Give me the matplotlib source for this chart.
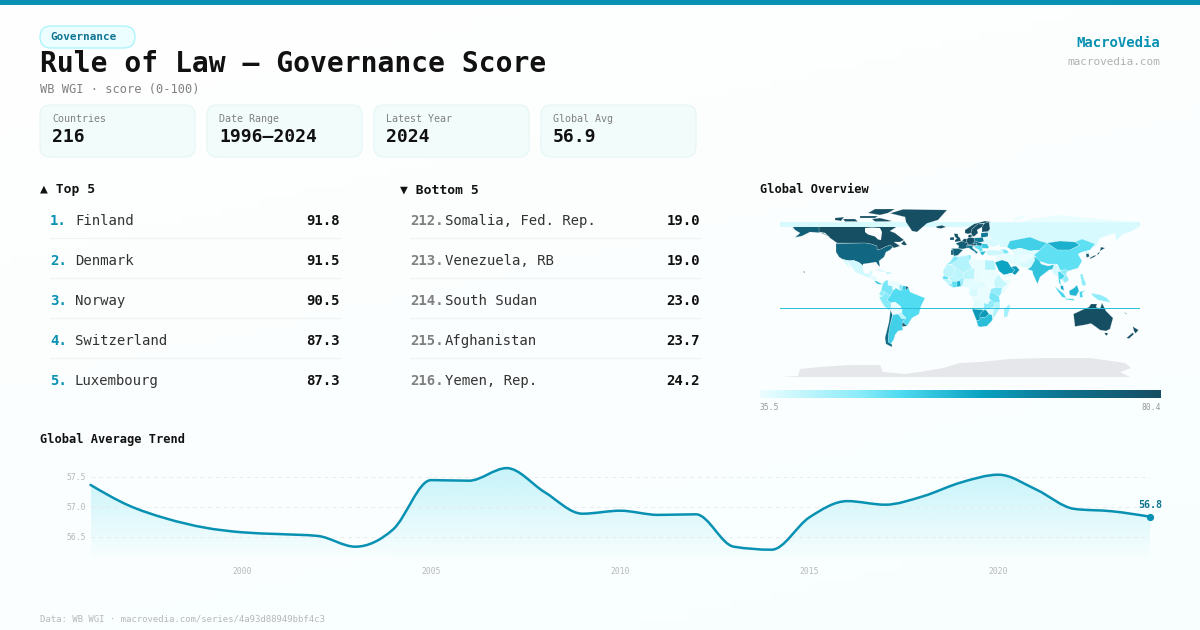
import numpy as np
import matplotlib

matplotlib.use("Agg")
import matplotlib.pyplot as plt
from matplotlib.colors import LinearSegmentedColormap, to_rgb
from matplotlib.patches import FancyBboxPatch, PathPatch, Polygon, Rectangle
from matplotlib.path import Path

plt.rcParams["font.family"] = ["DejaVu Sans Mono", "DejaVu Sans"]

W, H = 1200, 630
PX = 0.72  # font px to pt at dpi 100

ACCENT = "#0891b2"
DARK = "#111111"
BODY = "#333333"
GREY = "#808080"
LIGHT = "#b8b8b8"

# Header and stat cards
badge_text = "Governance"
title_text = "Rule of Law — Governance Score"
subtitle_text = "WB WGI · score (0-100)"
stat_labels = ["Countries", "Date Range", "Latest Year", "Global Avg"]
stat_values = ["216", "1996–2024", "2024", "56.9"]

# Rankings
top_ranks = ["1.", "2.", "3.", "4.", "5."]
top_names = ["Finland", "Denmark", "Norway", "Switzerland", "Luxembourg"]
top_scores = [91.8, 91.5, 90.5, 87.3, 87.3]
bottom_ranks = ["212.", "213.", "214.", "215.", "216."]
bottom_names = ["Somalia, Fed. Rep.", "Venezuela, RB", "South Sudan", "Afghanistan", "Yemen, Rep."]
bottom_scores = [19.0, 19.0, 23.0, 23.7, 24.2]

# Trend
years = list(range(1996, 2025))
global_avg = [57.36, 57.02, 56.80, 56.65, 56.57, 56.54, 56.51, 56.33, 56.62, 57.44,
              57.43, 57.64, 57.24, 56.88, 56.93, 56.86, 56.87, 56.33, 56.28, 56.82,
              57.09, 57.03, 57.17, 57.40, 57.53, 57.28, 56.96, 56.92, 56.83]
trend_yticks = [56.5, 57.0, 57.5]
trend_xticks = [2000, 2005, 2010, 2015, 2020]

# Map colour scale
map_min, map_max = 35.5, 80.4

# Rough country outlines (lon, lat), each with a colour value read from the map
regions = [
    ("Africa base", 36, [(-17, 21), (-13, 28), (-10, 30), (-6, 36), (9, 37), (11, 37), (11, 33), (20, 31), (25, 32), (34, 31), (36, 22), (38, 18), (43, 12), (51, 12), (46, 2), (39, -4.5), (40, -16), (35, -24), (32.5, -28), (27, -34), (20, -35), (18, -34), (14, -22), (12, -17), (14, -10), (12, -5), (9, -1), (9, 4), (5, 5), (-3, 5), (-7.5, 4.5), (-13, 8.5), (-17.5, 14.7)]),
    ("Canada", 80, [(-141, 60), (-141, 70), (-62, 70), (-62, 66), (-70, 61), (-65, 59), (-56, 52), (-60, 50), (-66, 50), (-60, 46), (-66, 44), (-70, 47), (-75, 45), (-79, 43), (-83, 42), (-83, 46), (-89, 48), (-95, 49), (-123, 49), (-130, 54), (-135, 59)]),
    ("Hudson Bay", None, [(-95, 64), (-88, 64.5), (-80, 64), (-78, 60), (-79, 52), (-82, 52.5), (-85, 55.5), (-92, 57.5), (-95, 60)]),
    ("Baffin", 80, [(-88, 73), (-80, 74), (-68, 71), (-72, 70.5), (-85, 70.5)]),
    ("Victoria", 80, [(-117, 73), (-105, 73), (-102, 70.5), (-115, 70.5)]),
    ("Banks", 80, [(-125, 74), (-116, 75), (-119, 71), (-125, 72)]),
    ("Devon", 80, [(-100, 76), (-82, 76), (-85, 74), (-100, 74)]),
    ("Ellesmere", 80, [(-92, 79), (-85, 83), (-65, 83), (-72, 79), (-80, 77)]),
    ("Newfoundland", 80, [(-59, 48), (-56, 51.5), (-53, 47), (-56, 46.8)]),
    ("USA", 73, [(-124, 48.5), (-95, 49), (-89, 48), (-83, 46), (-83, 42), (-79, 43), (-75, 45), (-70, 47), (-67, 45), (-70, 42), (-74, 40), (-76, 35), (-81, 31), (-80, 25), (-82, 27), (-84, 30), (-90, 29), (-97, 28), (-97, 26), (-101, 29.5), (-106, 31.5), (-111, 31.3), (-117, 32.5), (-121, 35), (-124, 40)]),
    ("Alaska", 75, [(-168, 66), (-156, 70), (-141, 70), (-141, 60), (-130, 55), (-137, 59), (-150, 60), (-158, 56), (-165, 54.5), (-160, 59), (-165, 62)]),
    ("Hawaii", 73, [(-157, 21), (-155, 20), (-155.5, 19), (-156.5, 20)]),
    ("Russia wrap", 38, [(-180, 65.3), (-180, 70.3), (180, 70.3), (180, 65.3)]),
    ("Greenland", 80, [(-70, 78.7), (-57, 82.7), (-13, 82), (-22, 72), (-33, 68.7), (-43, 60), (-48, 61), (-54, 70), (-55, 75)]),
    ("Iceland", 80, [(-24, 65.5), (-18, 66.7), (-14, 65), (-19, 63.5), (-23, 64)]),
    ("Mexico", 38.5, [(-117, 32.5), (-111, 31.3), (-106, 31.5), (-101, 29.5), (-97, 26), (-97, 22), (-95, 18.5), (-91, 18.5), (-90, 21), (-87, 21), (-88, 18), (-92, 14.5), (-96, 16), (-105, 20), (-109, 26), (-113, 31), (-110, 23), (-115, 29)]),
    ("Central America", 37, [(-92, 14.5), (-88, 18), (-88, 16), (-83, 15), (-83.5, 11), (-85, 10), (-88, 13)]),
    ("Costa Rica", 54, [(-85.7, 11), (-83.5, 11), (-80, 9), (-77.5, 8), (-80, 7.5), (-83, 8.2)]),
    ("Cuba", 38, [(-85, 22), (-80, 23), (-74, 20), (-78, 20)]),
    ("Hispaniola", 42, [(-74, 19.8), (-69, 19.5), (-68.5, 18.3), (-74, 18)]),
    ("Colombia", 48, [(-77.3, 8), (-75, 11), (-72, 12), (-72, 7), (-67.5, 6), (-67, 1.5), (-70, -4), (-74, -1), (-78.8, 1.5)]),
    ("Venezuela", 36, [(-72, 12), (-68, 11), (-62, 10.5), (-60, 8), (-61, 5), (-64, 4), (-67, 1.5), (-67.5, 6), (-72, 7)]),
    ("Guyana", 46, [(-60, 8), (-57, 6), (-58, 2), (-60, 1.5), (-61, 5)]),
    ("Suriname", 55, [(-57, 6), (-54, 6), (-54, 2), (-58, 2)]),
    ("French Guiana", 80, [(-54, 6), (-51.5, 4.5), (-53, 2), (-54, 2)]),
    ("Ecuador", 46, [(-81, -2), (-78.8, 1.5), (-75, 0), (-78, -4.5)]),
    ("Peru", 47, [(-81, -5), (-78, -4.5), (-75, 0), (-70, -4), (-73, -8), (-69, -11), (-69, -17), (-71, -18), (-76, -14)]),
    ("Brazil", 51, [(-70, -4), (-67, 1.5), (-64, 4), (-60, 1.5), (-58, 2), (-54, 2), (-51.5, 4.5), (-50, 0), (-44, -2.5), (-35, -6), (-39, -14), (-41, -22), (-48, -26), (-53, -34), (-57.5, -30), (-54, -26), (-58, -22), (-58, -17), (-60, -14), (-65, -10), (-69, -11), (-73, -8)]),
    ("Bolivia", 36, [(-69, -11), (-65, -10), (-60, -14), (-58, -17), (-58, -20), (-62, -22), (-67, -23), (-69, -18)]),
    ("Paraguay", 41, [(-62, -22), (-58, -20), (-58, -22), (-54, -26), (-58, -27)]),
    ("Argentina", 53, [(-67, -23), (-62, -22), (-58, -27), (-54, -26), (-57.5, -30), (-58, -34), (-57, -38), (-62, -39), (-65, -43), (-66, -47), (-69, -52), (-68, -52.5), (-72, -50), (-71.5, -42), (-70, -33)]),
    ("Chile", 72, [(-69.5, -18), (-67.5, -23), (-70, -33), (-71.5, -42), (-72, -50), (-68, -52.5), (-68, -55), (-74, -52), (-75, -46), (-73, -38), (-71, -30)]),
    ("Uruguay", 76, [(-57.5, -30), (-53, -34), (-58, -34.5)]),
    # Europe
    ("Russia", 38, [(28, 65.5), (180, 65.5), (170, 60), (163, 58), (156, 51), (155, 59), (140, 54), (135, 44), (128, 50), (115, 50), (100, 51), (87, 49), (70, 55), (50, 51), (47, 45), (40, 45), (38, 50), (32, 53), (28, 58)]),
    ("Russia north", 36, [(28, 70), (40, 70), (60, 70), (70, 73), (100, 77), (140, 73), (180, 70)]),
    ("Novaya Zemlya", 36, [(52, 71), (56, 75), (68, 77), (58, 72)]),
    ("Norway", 80, [(5, 59), (5, 62), (14, 68), (25, 71), (31, 70), (25, 69), (18, 68), (12, 63), (11, 59), (8, 58)]),
    ("Sweden", 80, [(11, 59), (12, 63), (18, 68), (24, 68), (22, 65), (17, 62), (18, 59), (14, 55.5), (12.5, 56)]),
    ("Finland", 80, [(24, 68), (25, 69), (29, 70), (30, 63), (28, 60.5), (22, 60), (22, 65)]),
    ("UK", 79, [(-5, 50), (1, 51), (0, 54), (-2, 56), (-2, 58), (-6, 58.5), (-5, 55), (-3, 53.5), (-5, 52)]),
    ("Ireland", 78, [(-10, 52), (-6, 52), (-6, 55), (-10, 54.5)]),
    ("France", 76, [(-4.5, 48.5), (2, 51), (8, 49), (7, 44), (3, 43), (-2, 43.5), (-1, 46)]),
    ("Spain", 74, [(-9, 43.5), (-2, 43.5), (3, 42), (0, 39), (-2, 36.8), (-6, 36), (-7, 38), (-7, 42)]),
    ("Portugal", 76, [(-9, 42), (-7, 42), (-7, 37), (-9, 37)]),
    ("Benelux", 79, [(2, 51), (4, 53.3), (7, 53), (6, 49.5), (4, 50)]),
    ("Germany", 79, [(7, 53), (9, 54.8), (14, 54), (15, 51), (13, 48), (8, 47.6), (8, 49), (6, 49.5)]),
    ("Denmark", 80, [(8, 55), (8.5, 57), (11, 57.5), (12.5, 55.5), (10, 54.8)]),
    ("Poland", 68, [(14, 54), (23, 54.5), (24, 50.5), (19, 49.5), (15, 51)]),
    ("Baltics", 68, [(21, 54.5), (21, 59), (28, 59.5), (28, 55), (23, 54.5)]),
    ("Alps", 79, [(8, 47.6), (13, 48), (17, 48.5), (16, 46.5), (10, 46.5), (6, 46)]),
    ("Italy", 68, [(7, 44), (6.5, 46), (13, 46.5), (12.5, 44), (16, 41), (18, 40), (16, 38), (15, 40), (11, 42.5), (9, 44)]),
    ("Czech Hungary", 70, [(15, 51), (19, 49.5), (22.5, 48.5), (21, 46), (16, 46.5), (17, 48.5), (13, 48)]),
    ("Balkans", 50, [(13.5, 45.5), (16, 46.5), (21, 46), (22.5, 44), (22.5, 41), (20, 40), (19, 42), (15, 44.5)]),
    ("Romania", 54, [(22.5, 48.5), (27, 48), (29, 45), (28, 43.5), (22.5, 44), (21, 46)]),
    ("Greece", 56, [(20, 40), (26, 41), (24, 38), (22.5, 36.5), (21, 38)]),
    ("Ukraine", 38, [(24, 50.5), (24, 52), (32, 52.5), (40, 49.5), (38, 47), (33, 45), (30, 46), (27, 48), (22.5, 48.5)]),
    ("Belarus", 37, [(23, 54.5), (28, 55.5), (32, 53), (32, 52.5), (24, 52)]),
    # Africa
    ("Morocco", 47, [(-13, 28), (-10, 30), (-6, 36), (-2, 35), (-2, 32), (-9, 28)]),
    ("Algeria", 42, [(-2, 35), (9, 37), (9, 30), (12, 24), (3, 19), (-5, 25), (-9, 28), (-2, 32)]),
    ("Tunisia", 46, [(8, 37), (11, 37), (11, 32), (9, 30)]),
    ("Libya", 36, [(10, 33), (25, 32), (25, 20), (15, 23), (12, 24), (9, 30)]),
    ("Egypt", 42, [(25, 32), (34, 31), (36, 22), (25, 22)]),
    ("Mauritania", 41, [(-17, 21), (-13, 28), (-9, 27), (-5, 25), (-6, 16), (-12, 15), (-16, 16)]),
    ("Mali", 41, [(-12, 15), (-6, 16), (-5, 25), (3, 19), (4, 15), (-3, 11), (-8, 10.5)]),
    ("Senegal", 50, [(-17.5, 14.7), (-16, 16), (-12, 15), (-12, 12.5), (-16.5, 12.5)]),
    ("Guinea", 41, [(-16.5, 12.5), (-12, 12.5), (-8, 10.5), (-8, 8), (-13, 9)]),
    ("Liberia", 46, [(-13, 8.5), (-8, 8), (-7.5, 4.5)]),
    ("Ivory Coast", 50, [(-8, 10.5), (-3, 10.5), (-3, 5), (-7.5, 4.5), (-8, 8)]),
    ("Ghana", 58, [(-3, 11), (0.5, 11), (1, 6), (-3, 5)]),
    ("Burkina Benin", 45, [(-3, 11), (4, 15), (3.5, 9), (2.5, 6.3), (1, 6), (0.5, 11)]),
    ("Niger", 41, [(3, 19), (12, 24), (15, 23), (14, 13), (4, 13), (4, 15)]),
    ("Nigeria", 37, [(2.5, 6.3), (3.5, 9), (4, 13), (14, 13), (12, 7), (8.5, 4.5), (5, 5)]),
    ("Chad", 36, [(15, 23), (24, 19), (22, 11), (15.5, 8), (14, 13)]),
    ("Sudan", 36, [(25, 22), (36, 22), (38, 18), (34, 10), (27, 10), (22, 11), (24, 19)]),
    ("South Sudan", 35.5, [(27, 10), (34, 10), (34, 4), (28, 4), (24, 8)]),
    ("Eritrea Ethiopia", 40, [(38, 18), (43, 12), (48, 8), (42, 4), (36, 4.5), (34, 8), (34, 10)]),
    ("Somalia", 36, [(43, 12), (51, 12), (46, 2), (41, -1.5), (42, 4), (48, 8)]),
    ("Cameroon CAR", 37, [(8.5, 4.5), (12, 7), (14, 13), (15.5, 8), (22, 11), (27, 5), (18, 3.5), (10, 2)]),
    ("Gabon Congo", 38, [(9, 1), (10, 2), (18, 3.5), (17, -4), (12, -5), (9, -1)]),
    ("DR Congo", 36, [(18, 3.5), (27, 5), (31, 3), (29, -4), (30, -8), (28, -12), (22, -11), (13, -6), (12, -5), (17, -4)]),
    ("Uganda Kenya", 46, [(31, 3), (34, 4), (36, 4.5), (42, 4), (41, -1.5), (39, -4.5), (34, -1), (30, -1)]),
    ("Tanzania", 48, [(30, -1), (34, -1), (39, -4.5), (40, -10.5), (34, -11), (29, -6)]),
    ("Angola", 37, [(12, -5), (13, -6), (22, -11), (24, -11), (24, -18), (12, -17), (14, -10)]),
    ("Zambia Malawi", 46, [(24, -11), (28, -12), (30, -8), (34, -10), (35, -15), (30, -16), (26, -18), (24, -18)]),
    ("Mozambique", 42, [(34, -11), (40, -10.5), (40, -16), (35, -24), (33, -26), (32.5, -20), (35, -15)]),
    ("Zimbabwe", 37, [(26, -18), (30, -16), (33, -17), (32.5, -21), (29, -22)]),
    ("Namibia", 62, [(12, -17), (24, -18), (20, -22), (20, -28), (16.5, -28.5), (14, -22)]),
    ("Botswana", 62, [(24, -18), (26, -18), (29, -22), (26, -25), (20, -26), (20, -22)]),
    ("South Africa", 56, [(16.5, -28.5), (20, -28), (20, -26), (26, -25), (29, -22), (32, -23), (32.5, -28), (27, -34), (20, -35), (18, -34)]),
    ("Madagascar", 44, [(49.5, -12), (50, -16), (47, -25), (44, -25), (44, -17)]),
    # Middle East and Asia
    ("Turkey", 39, [(26, 40), (28, 42), (35, 42), (43, 41), (44, 38), (36, 36.5), (28, 36.5)]),
    ("Levant Iraq", 36, [(36, 36.5), (44, 38), (46, 35), (48, 30), (42, 29), (35, 29.5)]),
    ("Saudi", 60, [(35, 29.5), (42, 32), (48, 30), (51, 25), (55, 22), (52, 19), (44, 17), (39, 21)]),
    ("UAE Oman", 62, [(51, 25), (56, 26), (59.5, 22), (55, 17), (52, 19), (55, 22)]),
    ("Yemen", 36, [(43, 13), (44, 17), (52, 19), (53, 16)]),
    ("Caucasus", 48, [(40, 43), (47, 42), (49, 39), (44, 38), (43, 41)]),
    ("Iran", 36.5, [(44, 38), (49, 38), (54, 37), (61, 36), (61, 26), (57, 26), (50, 29), (48, 30), (46, 35)]),
    ("Kazakhstan", 53, [(47, 45), (50, 51), (70, 55), (80, 51), (87, 49), (80, 42), (70, 41), (60, 44), (52, 42)]),
    ("Central Asia", 37, [(52, 42), (60, 44), (70, 41), (80, 42), (74, 37), (66, 37), (61, 36), (54, 37)]),
    ("Afghanistan", 36, [(61, 36), (66, 37), (74, 37), (70, 33), (66, 29.5), (61, 30)]),
    ("Pakistan", 38, [(61, 30), (66, 29.5), (70, 33), (74, 37), (75, 32), (71, 25), (67, 24.5), (61, 25)]),
    ("India", 55, [(67.5, 23), (71, 25), (75, 32), (74, 35), (79, 33), (81, 28), (88, 26), (96, 28), (94, 23), (89, 22), (80, 15), (77.5, 8), (73, 18), (72.5, 21)]),
    ("Mongolia", 58, [(87, 49), (100, 51), (115, 50), (120, 47), (110, 42), (97, 42)]),
    ("China", 50, [(74, 37), (80, 42), (87, 49), (97, 42), (110, 42), (120, 47), (115, 50), (122, 53), (135, 48), (130, 42), (122, 40), (118, 38), (122, 31), (118, 24), (108, 21), (100, 22), (97, 28), (88, 28), (79, 31)]),
    ("North Korea", 37, [(124.5, 40), (130, 42), (128, 38), (125, 38)]),
    ("South Korea", 76, [(126, 38), (128.5, 38.5), (129.5, 35.5), (126.5, 34.5)]),
    ("Japan", 78, [(130, 33), (135, 35.5), (140, 41), (145, 44), (141, 45), (139, 38), (133, 36), (130, 34)]),
    ("Myanmar", 38, [(92, 21), (94, 28), (98, 27), (100, 21), (98, 16), (97, 16.5), (95, 16)]),
    ("Thailand", 52, [(98, 20), (100, 20.5), (105, 16), (102, 12.5), (100, 13), (101, 7), (99, 9), (98.5, 14)]),
    ("Indochina", 46, [(100, 21), (105, 23), (108, 21), (106, 18), (109, 12), (105, 9), (102.5, 12), (105, 16), (100.5, 20)]),
    ("Malaysia", 60, [(100.5, 6.5), (103, 6), (104, 1.5), (101, 3)]),
    ("Borneo", 57, [(109, 1), (114, 4), (117, 7), (119, 1), (116, -4), (110, -3)]),
    ("Sumatra", 52, [(95, 5.5), (104, -2), (106, -6), (102, -5), (97, 2)]),
    ("Java", 52, [(105, -6.5), (114, -7), (114, -8.5), (106, -7.5)]),
    ("Sulawesi", 52, [(119.5, 0), (125, 1.5), (122, -1), (123, -5), (120, -5.5)]),
    ("Papua", 46, [(131, -1), (141, -3), (147, -6), (150.5, -10.5), (143, -9), (138, -8), (133, -4)]),
    ("Philippines", 46, [(120, 18), (122.5, 18), (124, 13), (126, 9), (125, 6), (122, 7), (121, 13)]),
    ("Australia", 80, [(113.5, -22), (122, -18), (129, -15), (131, -12), (137, -12), (136, -15), (140, -17), (142, -11), (146, -19), (153, -26), (150, -37), (146, -39), (140, -38), (136, -35), (131, -31.5), (124, -33), (115, -34.5)]),
    ("Tasmania", 80, [(144.5, -40.8), (148, -41), (147, -43.5), (145.5, -43)]),
    ("New Zealand N", 80, [(172.7, -34.5), (178.5, -38), (175.5, -41.5), (174, -39)]),
    ("New Zealand S", 80, [(172.5, -40.7), (174, -42), (169, -46.6), (166.5, -46)]),
    ("New Caledonia", 72, [(164, -20), (167, -22), (166, -22.2)]),
    ("Fiji wrap", 56, [(-180, -16.6), (-180, -15.6), (180, -15.6), (180, -16.6)]),
]

antarctica_outline = [(-180, -85), (-162, -84), (-160, -77), (-140, -75), (-110, -73), (-80, -73), (-77, -80), (-55, -82), (-40, -80), (-17, -76), (0, -71), (20, -70), (50, -67), (90, -66), (130, -66), (165, -71), (171, -76), (160, -80), (170, -85), (180, -85)]


def fig_axes(fig, left, top, right, bottom):
    return fig.add_axes([left / W, 1 - bottom / H, (right - left) / W, (bottom - top) / H])


# d3 style monotone curve so the line passes through each yearly value
def monotone_path(x, y):
    x, y = np.asarray(x, float), np.asarray(y, float)
    h = np.diff(x)
    s = np.diff(y) / h
    t = np.zeros(len(x))
    for i in range(1, len(x) - 1):
        if s[i - 1] * s[i] > 0:
            p = (s[i - 1] * h[i] + s[i] * h[i - 1]) / (h[i - 1] + h[i])
            t[i] = np.sign(s[i]) * min(abs(s[i - 1]), abs(s[i]), 0.5 * abs(p)) * 2
    t[0] = (3 * s[0] - t[1]) / 2
    t[-1] = (3 * s[-1] - t[-2]) / 2
    verts = [(x[0], y[0])]
    codes = [Path.MOVETO]
    for i in range(len(x) - 1):
        verts += [(x[i] + h[i] / 3, y[i] + t[i] * h[i] / 3),
                  (x[i + 1] - h[i] / 3, y[i + 1] - t[i + 1] * h[i] / 3),
                  (x[i + 1], y[i + 1])]
        codes += [Path.CURVE4] * 3
    return verts, codes


fig = plt.figure(figsize=(W / 100, H / 100), dpi=100)

# Page background, very faint diagonal tint
bg = fig.add_axes([0, 0, 1, 1], zorder=0)
gx, gy = np.meshgrid(np.linspace(0, 1, 120), np.linspace(0, 1, 64))
tint = np.clip((gx * 0.4 + gy * 0.9) / 1.3, 0, 1)[..., None]
bg.imshow(np.array(to_rgb("#ffffff")) * (1 - tint) + np.array(to_rgb("#f8fefe")) * tint, aspect="auto")
bg.axis("off")

# Overlay in pixel coordinates for the header, cards and ranking tables
ui = fig.add_axes([0, 0, 1, 1], zorder=1)
ui.set_xlim(0, W)
ui.set_ylim(H, 0)
ui.axis("off")
ui.patch.set_alpha(0)

ui.add_patch(Rectangle((0, 0), W, 5, color=ACCENT, lw=0))

ui.add_patch(FancyBboxPatch((40 + 11, 26 + 11), 95 - 22, 0, boxstyle="round,pad=11,rounding_size=11",
                            fc="#ecfeff", ec="#a5f3fc", lw=0.9))
ui.text(50, 37.5, badge_text, fontsize=11 * PX, fontweight="bold", color="#0e7490", va="center")
ui.text(40, 64.5, title_text, fontsize=28 * PX, fontweight="bold", color=DARK, va="center")
ui.text(40, 90, subtitle_text, fontsize=12 * PX, color=GREY, va="center")

ui.text(1160, 43, "MacroVedia", fontsize=14 * PX, fontweight="bold", color=ACCENT, va="center", ha="right")
ui.text(1160, 62, "macrovedia.com", fontsize=11 * PX, color="#b0b0b0", va="center", ha="right")

for i, (label, value) in enumerate(zip(stat_labels, stat_values)):
    left = 40 + i * 167
    ui.add_patch(FancyBboxPatch((left + 10, 105 + 10), 155 - 20, 52 - 20,
                                boxstyle="round,pad=10,rounding_size=10",
                                fc="#f1fcfb", ec="#e6f5f5", lw=0.8))
    ui.text(left + 12, 119, label, fontsize=10 * PX, color=GREY, va="center")
    ui.text(left + 12, 137, value, fontsize=18 * PX, fontweight="bold", color=DARK, va="center")

ui.text(40, 189.5, "▲ Top 5", fontsize=13 * PX, fontweight="bold", color=DARK, va="center")
ui.text(400, 189.5, "▼ Bottom 5", fontsize=13 * PX, fontweight="bold", color=DARK, va="center")
ui.text(760, 189.5, "Global Overview", fontsize=12 * PX, fontweight="bold", color=DARK, va="center")
ui.text(40, 439.5, "Global Average Trend", fontsize=12 * PX, fontweight="bold", color=DARK, va="center")

for i in range(5):
    y = 221 + i * 40
    ui.text(50, y, top_ranks[i], fontsize=14 * PX, fontweight="bold", color=ACCENT, va="center")
    ui.text(75, y, top_names[i], fontsize=14 * PX, color=BODY, va="center")
    ui.text(340, y, f"{top_scores[i]:.1f}", fontsize=14 * PX, fontweight="bold", color=DARK, va="center", ha="right")
    ui.text(410, y, bottom_ranks[i], fontsize=14 * PX, fontweight="bold", color=GREY, va="center")
    ui.text(445, y, bottom_names[i], fontsize=14 * PX, color=BODY, va="center")
    ui.text(700, y, f"{bottom_scores[i]:.1f}", fontsize=14 * PX, fontweight="bold", color=DARK, va="center", ha="right")
    if i < 4:
        ui.plot([50, 340], [y + 17, y + 17], color="#f1f3f3", lw=0.9)
        ui.plot([410, 700], [y + 17, y + 17], color="#f1f3f3", lw=0.9)

ui.text(40, 619, "Data: WB WGI · macrovedia.com/series/4a93d88949bbf4c3", fontsize=9 * PX, color=LIGHT, va="center")

# Map: plate carree, one pixel per degree
score_cmap = LinearSegmentedColormap.from_list(
    "cyan_scale",
    [(0, "#ecfeff"), (0.25, "#8aebf9"), (0.35, "#4fdbf1"), (0.55, "#0aa3c2"), (0.75, "#0e7490"), (1, "#164e63")],
)
map_ax = fig_axes(fig, 780, 202, 1140, 382)
map_ax.set_zorder(2)
map_ax.set_xlim(-180, 180)
map_ax.set_ylim(-90, 90)
map_ax.axis("off")
map_ax.add_patch(Polygon(antarctica_outline, closed=True, fc="#e5e7eb", ec="none"))
for name, score, outline in regions:
    if score is None:
        map_ax.add_patch(Polygon(outline, closed=True, fc="#fefefe", ec="none"))
        continue
    t = (score - map_min) / (map_max - map_min)
    plain = "wrap" in name or "base" in name
    map_ax.add_patch(Polygon(outline, closed=True, fc=score_cmap(t), ec="none" if plain else (1, 1, 1, 0.45),
                             lw=0 if plain else 0.3, clip_on=False))

# Colour bar
cbar_ax = fig_axes(fig, 760, 390, 1161, 398)
cbar_ax.set_zorder(2)
cbar_ax.imshow(np.linspace(map_min, map_max, 256)[None, :], cmap=score_cmap, aspect="auto",
               vmin=map_min, vmax=map_max, extent=[map_min, map_max, 0, 1])
cbar_ax.axis("off")
ui.text(760, 407, f"{map_min}", fontsize=8 * PX, color="#999999", va="center")
ui.text(1160.5, 407, f"{map_max}", fontsize=8 * PX, color="#999999", va="center", ha="right")

# Trend chart
y_per_px = 0.5 / 30
trend_top, trend_bottom = 466, 561
ax = fig_axes(fig, 90.5, trend_top, 1150, trend_bottom)
ax.set_zorder(3)
ax.patch.set_alpha(0)
ax.set_xlim(years[0], years[-1])
ax.set_ylim(57.5 - (trend_bottom - 476.5) * y_per_px, 57.5 + (476.5 - trend_top) * y_per_px)
for side in ax.spines.values():
    side.set_visible(False)

verts, codes = monotone_path(years, global_avg)
y0, y1 = ax.get_ylim()

# Area under the curve, fading out towards the baseline
shade = np.zeros((128, 2, 4))
shade[..., :3] = to_rgb("#22d3ee")
shade[..., 3] = np.linspace(0.25, 0.0, 128)[:, None]
area = ax.imshow(shade, aspect="auto", extent=[years[0], years[-1], y0, y1], origin="upper", zorder=1)
area_path = PathPatch(Path(verts + [(years[-1], y0), (years[0], y0), (years[0], global_avg[0])],
                           codes + [Path.LINETO, Path.LINETO, Path.CLOSEPOLY]),
                      transform=ax.transData, fc="none", ec="none")
ax.add_patch(area_path)
area.set_clip_path(area_path)

for tick in trend_yticks:
    ax.axhline(tick, color="#e5e7eb", lw=0.7, ls=(0, (4, 4)), alpha=0.8, zorder=2)
ax.add_patch(PathPatch(Path(verts, codes), fc="none", ec=ACCENT, lw=1.8, capstyle="round", zorder=3, clip_on=False))
ax.plot(years[-1], global_avg[-1], "o", color=ACCENT, ms=5.2, mew=0, zorder=4, clip_on=False)
ax.annotate(f"{global_avg[-1]:.1f}", (years[-1], global_avg[-1]), xytext=(0, 5), textcoords="offset points",
            ha="center", va="bottom", fontsize=10 * PX, fontweight="bold", color="#0e7490", annotation_clip=False)

ax.set_yticks(trend_yticks, [f"{v:.1f}" for v in trend_yticks])
ax.set_xticks(trend_xticks, [str(v) for v in trend_xticks])
ax.tick_params(length=0, labelsize=8 * PX, labelcolor=LIGHT)
ax.tick_params(axis="y", pad=3.5)
ax.tick_params(axis="x", pad=4.5)

fig.savefig("out.png", dpi=100)
